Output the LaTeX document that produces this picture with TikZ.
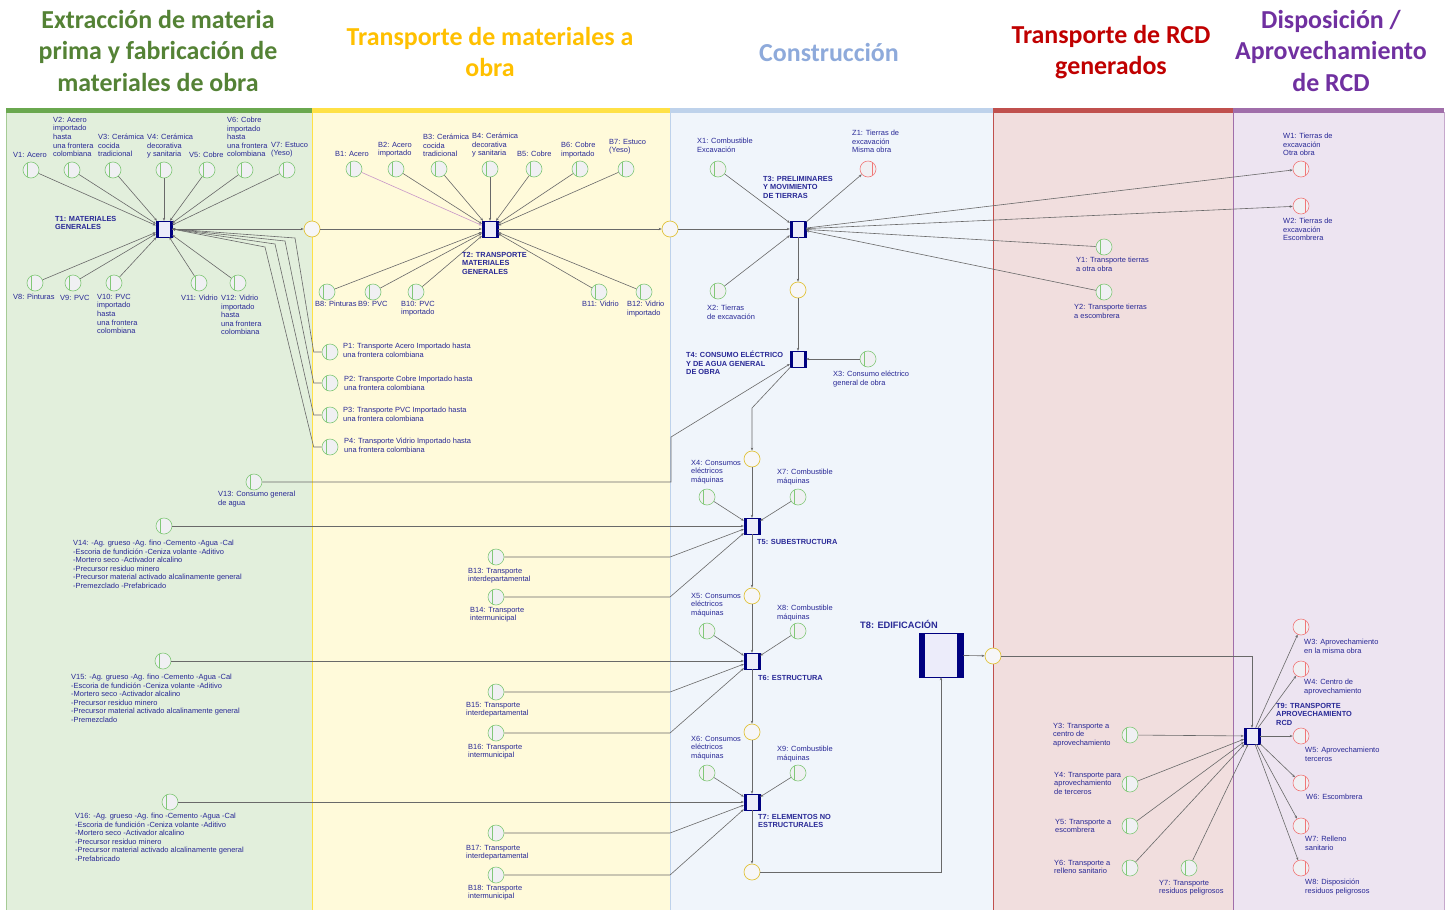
\documentclass[tikz,border=0pt]{standalone}
\usepackage{fontspec}
\setmainfont{Liberation Sans}
\newfontfamily\cabecera{Carlito}
\usetikzlibrary{arrows.meta}

% Colores de carriles
\definecolor{fondoVerde}{RGB}{226,239,220}
\definecolor{barraVerde}{RGB}{106,168,79}
\definecolor{fondoAmarillo}{RGB}{255,250,218}
\definecolor{barraAmarilla}{RGB}{255,225,70}
\definecolor{fondoAzul}{RGB}{240,245,251}
\definecolor{barraAzul}{RGB}{190,210,235}
\definecolor{fondoRojo}{RGB}{241,222,222}
\definecolor{barraRoja}{RGB}{192,80,77}
\definecolor{fondoMorado}{RGB}{237,228,241}
\definecolor{barraMorada}{RGB}{160,110,170}
% Colores de titulos
\definecolor{tituloVerde}{RGB}{84,130,53}
\definecolor{tituloAmarillo}{RGB}{255,192,0}
\definecolor{tituloAzul}{RGB}{142,170,219}
\definecolor{tituloRojo}{RGB}{192,0,0}
\definecolor{tituloMorado}{RGB}{112,48,160}
% Colores de la red
\definecolor{azulTexto}{RGB}{40,40,150}
\definecolor{azulT}{RGB}{0,0,128}
\definecolor{rellenoT}{RGB}{236,236,250}
\definecolor{verdeLugar}{RGB}{130,200,120}
\definecolor{rojoLugar}{RGB}{240,120,120}
\definecolor{amarilloLugar}{RGB}{225,195,60}
\definecolor{rellenoLugar}{RGB}{240,240,243}
\definecolor{grisArco}{RGB}{105,105,105}
\definecolor{rosaArco}{RGB}{200,150,200}

\tikzset{
  lugar/.style={circle, draw=verdeLugar, fill=rellenoLugar, minimum size=16bp, inner sep=0pt, line width=0.6bp,
    path picture={\draw[verdeLugar, line width=0.5bp] ([xshift=-4bp]path picture bounding box.north) -- ([xshift=-4bp]path picture bounding box.south);}},
  salida/.style={circle, draw=rojoLugar, fill=rellenoLugar, minimum size=16bp, inner sep=0pt, line width=0.6bp,
    path picture={\draw[rojoLugar, line width=0.5bp] ([xshift=4bp]path picture bounding box.north) -- ([xshift=4bp]path picture bounding box.south);}},
  enlace/.style={circle, draw=amarilloLugar, fill=rellenoLugar!60!white, minimum size=16bp, inner sep=0pt, line width=0.7bp},
  trans/.style={rectangle, draw=azulT, fill=rellenoT, minimum width=16bp, minimum height=16bp, inner sep=0pt, line width=0.4bp,
    path picture={\fill[azulT] (path picture bounding box.south west) rectangle ([xshift=2.5bp]path picture bounding box.north west);
                  \fill[azulT] (path picture bounding box.south east) rectangle ([xshift=-2.5bp]path picture bounding box.north east);}},
  transG/.style={rectangle, draw=azulT, fill=rellenoT, minimum width=44bp, minimum height=44bp, inner sep=0pt, line width=0.4bp,
    path picture={\fill[azulT] (path picture bounding box.south west) rectangle ([xshift=6bp]path picture bounding box.north west);
                  \fill[azulT] (path picture bounding box.south east) rectangle ([xshift=-6bp]path picture bounding box.north east);}},
  etq/.style={font=\fontsize{7.5}{8.6}\selectfont, text=azulTexto, align=left, inner sep=0pt, anchor=north west},
  etqT/.style={etq, font=\fontsize{7.4}{8.6}\selectfont\bfseries},
  titulo/.style={font=\cabecera\bfseries\fontsize{26}{31.5}\selectfont, align=center, inner sep=0pt},
  arco/.style={draw=grisArco, line width=0.6bp, -{Stealth[length=3bp,width=2.4bp]}},
}

\begin{document}
\begin{tikzpicture}[x=1bp,y=-1bp]
  \useasboundingbox (0,0) rectangle (1451,910);
  \fill[white] (0,0) rectangle (1451,910);

  % Carriles
  \fill[fondoVerde] (6,112) rectangle (312,910);
  \fill[fondoAmarillo] (312,112) rectangle (670,910);
  \fill[fondoAzul] (670,112) rectangle (993,910);
  \fill[fondoRojo] (993,112) rectangle (1233,910);
  \fill[fondoMorado] (1233,112) rectangle (1444,910);
  \draw[barraVerde!60, line width=0.6bp] (6,112) -- (6,910);
  \draw[barraAmarilla, line width=0.6bp] (312,112) -- (312,910);
  \draw[barraAzul, line width=0.6bp] (670,112) -- (670,910);
  \draw[barraRoja, line width=0.6bp] (993,112) -- (993,910);
  \draw[barraMorada, line width=0.6bp] (1233,112) -- (1233,910);
  \draw[barraMorada!60, line width=0.8bp] (1444,112) -- (1444,910);
  \fill[barraVerde] (6,108) rectangle (312,113);
  \fill[barraAmarilla] (312,108) rectangle (670,113);
  \fill[barraAzul] (670,108) rectangle (993,113);
  \fill[barraRoja] (993,108) rectangle (1233,113);
  \fill[barraMorada] (1233,108) rectangle (1444,113);

  % Titulos
  \node[titulo, text=tituloVerde] (h1) at (158,51) {Extracción de materia\\prima y fabricación de\\materiales de obra};
  \node[titulo, text=tituloAmarillo] (h2) at (490,52) {Transporte de materiales a\\obra};
  \node[titulo, text=tituloAzul] (h3) at (829,53) {Construcción};
  \node[titulo, text=tituloRojo] (h4) at (1111,52) {Transporte de RCD\\generados};
  \node[titulo, text=tituloMorado] (h5) at (1331,51) {Disposición /\\Aprovechamiento\\de RCD};

  % Extraccion
  \foreach \n/\x in {1/31,2/72,3/113,4/164,5/207,6/245,7/287} \node[lugar] (V\n) at (\x,170) {};
  \foreach \n/\x in {8/35,9/73,10/114,11/199,12/238} \node[lugar] (V\n) at (\x,283) {};
  \node[trans] (T1) at (164,229) {};
  \foreach \n/\y in {1/352,2/383,3/415,4/447} \node[lugar] (P\n) at (330,\y) {};
  \node[lugar] (V13) at (254,482) {};
  \node[lugar] (V14) at (164,526) {};
  \node[lugar] (V15) at (163,661) {};
  \node[lugar] (V16) at (170,802) {};

  % Transporte de materiales
  \node[enlace] (E12) at (312,229) {};
  \foreach \n/\x in {1/354,2/396,3/439,4/490,5/534,6/580,7/626} \node[lugar] (B\n) at (\x,169) {};
  \foreach \n/\x in {8/327,9/373,10/416,11/599,12/644} \node[lugar] (B\n) at (\x,292) {};
  \node[trans] (T2) at (490,229) {};
  \foreach \n/\y in {13/557,14/597,15/692,16/733,17/833,18/875} \node[lugar] (B\n) at (496,\y) {};
  \node[enlace] (E23) at (670,229) {};

  % Construccion
  \node[trans] (T3) at (798,229) {};
  \node[lugar] (X1) at (718,169) {};
  \node[salida] (Z1) at (868,169) {};
  \node[lugar] (X2) at (718,291) {};
  \node[enlace] (E34) at (798,290) {};
  \node[trans] (T4) at (798,359) {};
  \node[lugar] (X3) at (868,359) {};
  \node[enlace] (E45) at (752,459) {};
  \node[trans] (T5) at (752,526) {};
  \node[lugar] (X4) at (707,497) {};
  \node[lugar] (X7) at (798,497) {};
  \node[enlace] (E56) at (752,596) {};
  \node[trans] (T6) at (752,661) {};
  \node[lugar] (X5) at (707,631) {};
  \node[lugar] (X8) at (798,631) {};
  \node[enlace] (E67) at (752,732) {};
  \node[trans] (T7) at (752,802) {};
  \node[lugar] (X6) at (707,773) {};
  \node[lugar] (X9) at (798,773) {};
  \node[enlace] (E78) at (752,872) {};
  \node[transG] (T8) at (941,655) {};
  \node[enlace] (E89) at (993,656) {};

  % Transporte y disposicion de RCD
  \node[lugar] (Y1) at (1104,247) {};
  \node[lugar] (Y2) at (1104,292) {};
  \foreach \n/\y in {3/735,4/784,5/826,6/868} \node[lugar] (Y\n) at (1130,\y) {};
  \node[lugar] (Y7) at (1189,868) {};
  \node[salida] (W1) at (1301,169) {};
  \node[salida] (W2) at (1301,206) {};
  \node[trans] (T9) at (1252,736) {};
  \foreach \n/\y in {3/627,4/669,5/736,6/783,7/826,8/868} \node[salida] (W\n) at (1301,\y) {};

  % Arcos
  \foreach \n in {1,...,12} \draw[arco] (V\n) -- (T1);
  \draw[arco] (T1) -- (E12);
  \draw[arco] (E12) -- (T2);
  \foreach \n/\xb/\yb in {1/295/238,2/285/241,3/275/244,4/265/247}
    \draw[arco] (P\n.west) -- ++(-8,0) -- (\xb,\yb) -- (T1.east);
  \draw[arco, draw=rosaArco] (B1) -- (T2);
  \foreach \n in {2,...,12} \draw[arco] (B\n) -- (T2);
  \draw[arco] (T2) -- (E23);
  \draw[arco] (E23) -- (T3);
  \foreach \n in {X1,X2,Y1,Y2} \draw[arco] (\n) -- (T3);
  \foreach \n in {Z1,W1,W2} \draw[arco] (T3) -- (\n);
  \draw[arco] (T3) -- (E34);
  \draw[arco] (E34) -- (T4);
  \draw[arco] (X3) -- (T4);
  \draw[arco] (V13) -- (671,482) -- (671,437) -- (T4);
  \draw[arco] (T4) -- (752,408) -- (E45);
  % Subestructura, estructura y elementos no estructurales
  \draw[arco] (E45) -- (T5);
  \foreach \n in {X4,X7,V14} \draw[arco] (\n) -- (T5);
  \draw[arco] (B13) -- (670,557) -- (T5);
  \draw[arco] (B14) -- (670,597) -- (T5);
  \draw[arco] (T5) -- (E56);
  \draw[arco] (E56) -- (T6);
  \foreach \n in {X5,X8,V15} \draw[arco] (\n) -- (T6);
  \draw[arco] (B15) -- (670,692) -- (T6);
  \draw[arco] (B16) -- (670,733) -- (T6);
  \draw[arco] (T6) -- (E67);
  \draw[arco] (E67) -- (T7);
  \foreach \n in {X6,X9,V16} \draw[arco] (\n) -- (T7);
  \draw[arco] (B17) -- (670,833) -- (T7);
  \draw[arco] (B18) -- (670,875) -- (T7);
  \draw[arco] (T7) -- (E78);
  \draw[arco] (E78) -- (E78 -| T8) -- (T8);
  \draw[arco] (T8) -- (E89);
  \draw[arco] (E89) -- (E89 -| T9) -- (T9);
  \foreach \n in {3,...,7} \draw[arco] (Y\n) -- (T9);
  \foreach \n in {3,...,8} \draw[arco] (T9) -- (W\n);

  % Etiquetas
  \node[etq] (lV1) at (13,152) {V1: Acero};
  \node[etq] (lV2) at (53,117) {V2: Acero\\importado\\hasta\\una frontera\\colombiana};
  \node[etq] (lV3) at (98,134) {V3: Cerámica\\cocida\\tradicional};
  \node[etq] (lV4) at (147,134) {V4: Cerámica\\decorativa\\y sanitaria};
  \node[etq] (lV5) at (189,152) {V5: Cobre};
  \node[etq] (lV6) at (227,117) {V6: Cobre\\importado\\hasta\\una frontera\\colombiana};
  \node[etq] (lV7) at (271,142) {V7: Estuco\\(Yeso)};
  \node[etqT] (lT1) at (55,216) {T1: MATERIALES\\GENERALES};
  \node[etq] (lV8) at (13,294) {V8: Pinturas};
  \node[etq] (lV9) at (60,295) {V9: PVC};
  \node[etq] (lV10) at (97,294) {V10: PVC\\importado\\hasta\\una frontera\\colombiana};
  \node[etq] (lV11) at (181,295) {V11: Vidrio};
  \node[etq] (lV12) at (221,295) {V12: Vidrio\\importado\\hasta\\una frontera\\colombiana};
  \node[etq] (lP1) at (343,343) {P1: Transporte Acero Importado hasta\\una frontera colombiana};
  \node[etq] (lP2) at (344,376) {P2: Transporte Cobre Importado hasta\\una frontera colombiana};
  \node[etq] (lP3) at (343,407) {P3: Transporte PVC Importado hasta\\una frontera colombiana};
  \node[etq] (lP4) at (344,438) {P4: Transporte Vidrio Importado hasta\\una frontera colombiana};
  \node[etq] (lV13) at (218,491) {V13: Consumo general\\de agua};
  \node[etq] (lV14) at (73,540) {V14: -Ag. grueso -Ag. fino -Cemento -Agua -Cal\\-Escoria de fundición -Ceniza volante -Aditivo\\-Mortero seco -Activador alcalino\\-Precursor residuo minero\\-Precursor material activado alcalinamente general\\-Premezclado -Prefabricado};
  \node[etq] (lV15) at (71,674) {V15: -Ag. grueso -Ag. fino -Cemento -Agua -Cal\\-Escoria de fundición -Ceniza volante -Aditivo\\-Mortero seco -Activador alcalino\\-Precursor residuo minero\\-Precursor material activado alcalinamente general\\-Premezclado};
  \node[etq] (lV16) at (75,813) {V16: -Ag. grueso -Ag. fino -Cemento -Agua -Cal\\-Escoria de fundición -Ceniza volante -Aditivo\\-Mortero seco -Activador alcalino\\-Precursor residuo minero\\-Precursor material activado alcalinamente general\\-Prefabricado};
  \node[etq] (lB1) at (335,151) {B1: Acero};
  \node[etq] (lB2) at (378,142) {B2: Acero\\importado};
  \node[etq] (lB3) at (423,134) {B3: Cerámica\\cocida\\tradicional};
  \node[etq] (lB4) at (472,133) {B4: Cerámica\\decorativa\\y sanitaria};
  \node[etq] (lB5) at (517,151) {B5: Cobre};
  \node[etq] (lB6) at (561,142) {B6: Cobre\\importado};
  \node[etq] (lB7) at (609,139) {B7: Estuco\\(Yeso)};
  \node[etqT] (lT2) at (462,252) {T2: TRANSPORTE\\MATERIALES\\GENERALES};
  \node[etq] (lB8) at (315,301) {B8: Pinturas};
  \node[etq] (lB9) at (358,301) {B9: PVC};
  \node[etq] (lB10) at (401,301) {B10: PVC\\importado};
  \node[etq] (lB11) at (582,301) {B11: Vidrio};
  \node[etq] (lB12) at (627,301) {B12: Vidrio\\importado};
  \node[etq] (lB13) at (468,568) {B13: Transporte\\interdepartamental};
  \node[etq] (lB14) at (470,607) {B14: Transporte\\intermunicipal};
  \node[etq] (lB15) at (466,702) {B15: Transporte\\interdepartamental};
  \node[etq] (lB16) at (468,744) {B16: Transporte\\intermunicipal};
  \node[etq] (lB17) at (466,845) {B17: Transporte\\interdepartamental};
  \node[etq] (lB18) at (468,885) {B18: Transporte\\intermunicipal};
  \node[etq] (lX1) at (697,138) {X1: Combustible\\Excavación};
  \node[etq] (lZ1) at (852,130) {Z1: Tierras de\\excavación\\Misma obra};
  \node[etqT] (lT3) at (763,176) {T3: PRELIMINARES\\Y MOVIMIENTO\\DE TIERRAS};
  \node[etq] (lX2) at (707,305) {X2: Tierras\\de excavación};
  \node[etqT] (lT4) at (686,351) {T4: CONSUMO ELÉCTRICO\\Y DE AGUA GENERAL\\DE OBRA};
  \node[etq] (lX3) at (833,371) {X3: Consumo eléctrico\\general de obra};
  \node[etq] (lX4) at (691,460) {X4: Consumos\\eléctricos\\máquinas};
  \node[etq] (lX7) at (777,469) {X7: Combustible\\máquinas};
  \node[etqT] (lT5) at (757,539) {T5: SUBESTRUCTURA};
  \node[etq] (lX5) at (691,593) {X5: Consumos\\eléctricos\\máquinas};
  \node[etq] (lX8) at (777,605) {X8: Combustible\\máquinas};
  \node[etqT] (lT6) at (758,675) {T6: ESTRUCTURA};
  \node[etq] (lX6) at (691,736) {X6: Consumos\\eléctricos\\máquinas};
  \node[etq] (lX9) at (777,746) {X9: Combustible\\máquinas};
  \node[etqT] (lT7) at (758,814) {T7: ELEMENTOS NO\\ESTRUCTURALES};
  \node[etqT, font=\fontsize{9.3}{10}\selectfont\bfseries] (lT8) at (860,620) {T8: EDIFICACIÓN};
  \node[etq] (lW1) at (1283,133) {W1: Tierras de\\excavación\\Otra obra};
  \node[etq] (lW2) at (1283,218) {W2: Tierras de\\excavación\\Escombrera};
  \node[etq] (lY1) at (1076,257) {Y1: Transporte tierras\\a otra obra};
  \node[etq] (lY2) at (1074,304) {Y2: Transporte tierras\\a escombrera};
  \node[etqT] (lT9) at (1276,703) {T9: TRANSPORTE\\APROVECHAMIENTO\\RCD};
  \node[etq] (lW3) at (1304,639) {W3: Aprovechamiento\\en la misma obra};
  \node[etq] (lW4) at (1304,679) {W4: Centro de\\aprovechamiento};
  \node[etq] (lW5) at (1305,747) {W5: Aprovechamiento\\terceros};
  \node[etq] (lW6) at (1306,794) {W6: Escombrera};
  \node[etq] (lW7) at (1305,836) {W7: Relleno\\sanitario};
  \node[etq] (lW8) at (1305,879) {W8: Disposición\\residuos peligrosos};
  \node[etq] (lY3) at (1053,723) {Y3: Transporte a\\centro de\\aprovechamiento};
  \node[etq] (lY4) at (1054,772) {Y4: Transporte para\\aprovechamiento\\de terceros};
  \node[etq] (lY5) at (1055,819) {Y5: Transporte a\\escombrera};
  \node[etq] (lY6) at (1054,860) {Y6: Transporte a\\relleno sanitario};
  \node[etq] (lY7) at (1159,880) {Y7: Transporte\\residuos peligrosos};
\end{tikzpicture}
\end{document}
